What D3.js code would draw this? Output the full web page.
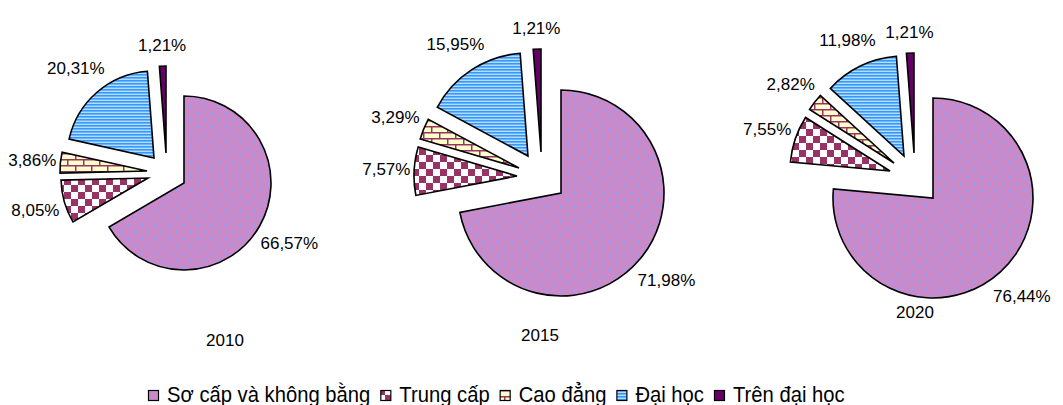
<!DOCTYPE html>
<html>
<head>
<meta charset="utf-8">
<script src="https://cdn.jsdelivr.net/npm/d3@7"></script>
<style>
  body { margin: 0; background: #fff; }
  svg { display: block; font-family: "Liberation Sans", Arial, sans-serif; }
</style>
</head>
<body>
<div id="chart"></div>
<script>
// data
const categories = ["Sơ cấp và không bằng", "Trung cấp", "Cao đẳng", "Đại học", "Trên đại học"];
const years = ["2010", "2015", "2020"];
const values2010 = [66.57, 8.05, 3.86, 20.31, 1.21];
const values2015 = [71.98, 7.57, 3.29, 15.95, 1.21];
const values2020 = [76.44, 7.55, 2.82, 11.98, 1.21];

document.addEventListener('DOMContentLoaded', function () {
  const fullwidth = 1063;
  const fullheight = 405;

  // layout of the three pies
  const panels = [
    {values: values2010, year: years[0], cx: 167, cy: 173, r: 87, explode: 20, titleX: 225, titleY: 346},
    {values: values2015, year: years[1], cx: 542, cy: 177, r: 103, explode: 25, titleX: 540, titleY: 341},
    {values: values2020, year: years[2], cx: 915, cy: 179, r: 100, explode: 26, titleX: 915, titleY: 318}
  ];

  const svg = d3.select("#chart").
  append("svg").
  attr("width", fullwidth).
  attr("height", fullheight);

  const defs = svg.append("defs");

  // mauve with small blue diamonds
  const dots = defs.append("pattern").
  attr("id", "pat0").
  attr("patternUnits", "userSpaceOnUse").
  attr("width", 14).attr("height", 14);
  dots.append("rect").attr("width", 14).attr("height", 14).attr("fill", "#c98ac9");
  [[0, 0], [14, 0], [0, 14], [14, 14], [7, 7]].forEach(function (p) {
    dots.append("path").
    attr("d", "M" + p[0] + "," + (p[1] - 2) + "L" + (p[0] + 2) + "," + p[1] + "L" + p[0] + "," + (p[1] + 2) + "L" + (p[0] - 2) + "," + p[1] + "Z").
    attr("fill", "#9a9cf2");
  });

  const checker = defs.append("pattern").
  attr("id", "pat1").
  attr("patternUnits", "userSpaceOnUse").
  attr("width", 14).attr("height", 14);
  checker.append("rect").attr("width", 14).attr("height", 14).attr("fill", "#fff");
  checker.append("rect").attr("width", 7).attr("height", 7).attr("fill", "#993366");
  checker.append("rect").attr("x", 7).attr("y", 7).attr("width", 7).attr("height", 7).attr("fill", "#993366");

  const brick = defs.append("pattern").
  attr("id", "pat2").
  attr("patternUnits", "userSpaceOnUse").
  attr("width", 16).attr("height", 12);
  brick.append("rect").attr("width", 16).attr("height", 12).attr("fill", "#ffffcc");
  brick.append("path").
  attr("d", "M0,0.75H16M0,6.75H16M0.75,0V6.75M8.75,6.75V12").
  attr("stroke", "#993366").
  attr("stroke-width", 1.5).
  attr("fill", "none");

  const stripes = defs.append("pattern").
  attr("id", "pat3").
  attr("patternUnits", "userSpaceOnUse").
  attr("width", 6).attr("height", 3);
  stripes.append("rect").attr("width", 6).attr("height", 3).attr("fill", "#3399ff");
  stripes.append("rect").attr("y", 1).attr("width", 6).attr("height", 1).attr("fill", "#6db5fb");
  stripes.append("rect").attr("y", 2).attr("width", 6).attr("height", 1).attr("fill", "#b5dcff");

  const fills = ["url(#pat0)", "url(#pat1)", "url(#pat2)", "url(#pat3)", "#660066"];
  const legendFills = ["#c98ac9", "url(#pat1)", "url(#pat2)", "url(#pat3)", "#660066"];

  const pie = d3.pie().sort(null).value(d => d);

  const fmt = v => v.toFixed(2).replace(".", ",") + "%";

  panels.forEach(function (p) {
    const arc = d3.arc().innerRadius(0).outerRadius(p.r);
    const arcs = pie(p.values);
    const g = svg.append("g");

    g.selectAll("path").
    data(arcs).
    enter().
    append("path").
    attr("transform", function (d) {
      const mid = (d.startAngle + d.endAngle) / 2;
      return "translate(" + Math.round(p.cx + p.explode * Math.sin(mid)) + "," + Math.round(p.cy - p.explode * Math.cos(mid)) + ")";
    }).
    attr("d", arc).
    attr("fill", (d, i) => fills[i]).
    attr("stroke", "#000").
    attr("stroke-width", 1.6).
    attr("stroke-linejoin", "miter");

    g.selectAll("text.lbl").
    data(arcs).
    enter().
    append("text").
    attr("class", "lbl").
    attr("font-size", 17).
    attr("text-anchor", "middle").
    attr("dy", "0.35em").
    attr("fill", "#000").
    text(d => fmt(d.data)).
    each(function (d) {
      const mid = (d.startAngle + d.endAngle) / 2;
      const dx = Math.sin(mid);
      const dy = -Math.cos(mid);
      const hw = this.getComputedTextLength() / 2;
      const dist = p.r + p.explode + 8 + Math.abs(dx) * hw * 0.8 + Math.abs(dy) * 12;
      d3.select(this).
      attr("x", p.cx + dist * dx).
      attr("y", p.cy + dist * dy);
    });

    g.append("text").
    attr("x", p.titleX).
    attr("y", p.titleY).
    attr("text-anchor", "middle").
    attr("font-size", 17).
    text(p.year);
  });

  // legend
  const legend = svg.append("g").attr("transform", "translate(0,402)");
  let xpos = 148;
  categories.forEach(function (c, i) {
    legend.append("rect").
    attr("x", xpos + 0.5).
    attr("y", -11.5).
    attr("width", 10).
    attr("height", 10).
    attr("fill", legendFills[i]).
    attr("stroke", "#000").
    attr("stroke-width", 1.2);
    const t = legend.append("text").
    attr("transform", "translate(" + (xpos + 19) + ",0) scale(0.92,1)").
    attr("font-size", 22).
    text(c);
    xpos += 19 + t.node().getComputedTextLength() * 0.92 + 10;
  });
});
</script>
</body>
</html>
